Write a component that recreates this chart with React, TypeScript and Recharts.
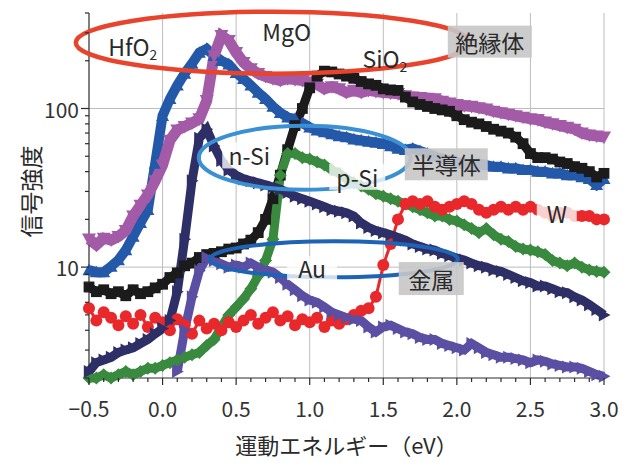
import React from "react";
import { LineChart, Line, XAxis, YAxis, ReferenceLine, ReferenceDot } from "recharts";

// kinetic energy grid (eV)
const ENERGY = [
  -0.5, -0.45, -0.4, -0.35, -0.3, -0.25, -0.2, -0.15, -0.1, -0.05,
  0, 0.05, 0.1, 0.15, 0.2, 0.25, 0.3, 0.35, 0.4, 0.45,
  0.5, 0.55, 0.6, 0.65, 0.7, 0.75, 0.8, 0.85, 0.9, 0.95,
  1, 1.05, 1.1, 1.15, 1.2, 1.25, 1.3, 1.35, 1.4, 1.45,
  1.5, 1.55, 1.6, 1.65, 1.7, 1.75, 1.8, 1.85, 1.9, 1.95,
  2, 2.05, 2.1, 2.15, 2.2, 2.25, 2.3, 2.35, 2.4, 2.45,
  2.5, 2.55, 2.6, 2.65, 2.7, 2.75, 2.8, 2.85, 2.9, 2.95,
  3,
];

const HFO2 = [
  9.6, 9.3, 9.3, 10.1, 11.1, 12.8, 15.6, 19, 23, 45,
  90, 115, 140, 166, 192, 225, 238, 215, 200, 190,
  168, 154, 140, 126, 115, 103, 94, 88, 86, 81,
  76, 73, 71, 69, 67, 66, 64, 63, 62, 61,
  60, 58, 56, 55, 56, 54, 52, 50, 48, 47,
  46, 45, 44, 45, 44, 43, 43, 42, 42, 41,
  41, 40, 40, 39, 39, 38, 38, 37, 36, 33,
  36,
];

const MGO = [
  15, 13.8, 15.2, 14.8, 15.6, 17, 21, 24.5, 28.5, 35,
  44, 63, 73, 77, 81, 86, 112, 215, 288, 268,
  225, 195, 178, 166, 159, 154, 150, 154, 152, 150,
  146, 142, 133, 137, 133, 126, 130, 126, 130, 128,
  126, 125, 124, 120, 118, 117, 116, 115, 111, 108,
  106, 104, 103, 101, 99, 96, 94, 92, 90, 88,
  86, 85, 82, 80, 78, 76, 74, 70, 68, 67,
  66,
];

const SIO2 = [
  7.5, 7.0, 7.2, 6.8, 7.0, 6.6, 7.2, 6.8, 7.0, 7.4,
  7.8, 8.6, 9.2, 10.2, 10.6, 11.5, 12.0, 12.2, 12.5, 13.0,
  13.2, 14.0, 14.8, 16.5, 20, 27, 38, 55, 78, 100,
  135, 160, 172, 170, 165, 160, 155, 148, 143, 140,
  133, 131, 130, 118, 110, 106, 103, 100, 98, 96,
  90, 85, 82, 80, 77, 74, 72, 70, 66, 60,
  52, 49, 49, 48, 46, 45, 43, 42, 40, 37,
  39,
];

const NSI = [
  2.2, 2.5, 2.6, 2.7, 2.9, 3.0, 3.1, 3.3, 3.5, 3.8,
  4.1, 4.6, 7, 15, 35, 65, 74, 58, 47, 41,
  38, 36, 35, 34, 33, 32, 31, 29.5, 28, 27,
  26, 25, 24, 23, 22.5, 22, 21, 19, 17.8, 17,
  16.5, 16, 15.4, 14.8, 14, 13.5, 13, 12.8, 12.2, 11.8,
  11.4, 11.1, 10.6, 10.2, 10, 9.6, 9.4, 9.0, 8.6, 8.2,
  8.0, 7.6, 7.6, 7.3, 7.0, 6.9, 6.5, 6.2, 5.8, 5.4,
  5.0,
];

const PSI = [
  2.0, 2.0, 2.1, 2.0, 2.1, 2.2, 2.1, 2.2, 2.3, 2.3,
  2.4, 2.5, 2.6, 2.7, 2.8, 2.9, 3.2, 3.5, 4.2, 5.0,
  5.6, 6.3, 7.3, 8.8, 11, 15, 38, 52, 52, 49,
  48, 46, 44, 41, 39, 36, 34, 32.5, 31, 29,
  28, 27, 26, 25, 24, 23, 22, 21, 21, 20,
  19.5, 18.5, 17.5, 16.5, 17.5, 16, 15, 14.5, 13.5, 13,
  12.8, 12.5, 12, 11, 10.6, 10.2, 10.6, 10, 9.6, 9.4,
  9.3,
];

const W = [
  5.5, 4.6, 5.2, 4.8, 4.3, 4.9, 4.4, 5.0, 4.2, 4.8,
  4.5, 4.0, 4.7, 4.3, 3.8, 4.6, 4.1, 4.4, 4.0, 4.5,
  4.2, 4.6, 5.0, 4.4, 4.8, 5.2, 4.6, 4.9, 4.3, 4.7,
  4.5, 4.8, 4.2, 4.6, 4.4, 4.7, 5.0, 5.3, 5.5, 6.5,
  10.3, 14, 20, 25, 26, 25, 26, 24, 23, 24,
  25, 26, 25, 23, 22, 23, 24, 23, 24, 23,
  24, 23, 22, 21, 22, 22, 21, 21, 21, 20,
  20,
];

const AU = [
  null, null, null, null, null, null, null, null, null, null,
  null, null, 2.2, 4.0, 6.5, 9.5, 11.5, 11, 10.5, 10,
  10.3, 10, 10.6, 10, 9.6, 9.3, 8.6, 7.8, 7.2, 6.6,
  6.2, 6.0, 5.6, 5.2, 5.0, 4.8, 4.7, 4.6, 4.2, 3.9,
  4.2, 4.3, 4.1, 3.9, 3.8, 3.6, 3.5, 3.5, 3.3, 3.2,
  3.1, 3.0, 3.3, 3.1, 2.9, 2.8, 2.7, 2.7, 2.65, 2.6,
  2.5, 2.6, 2.55, 2.45, 2.4, 2.35, 2.35, 2.3, 2.2, 2.1,
  2.05,
];

const X_TICKS = [
  -0.5, -0.4, -0.3, -0.2, -0.1, 0, 0.1, 0.2, 0.3, 0.4, 0.5, 0.6, 0.7, 0.8, 0.9,
  1, 1.1, 1.2, 1.3, 1.4, 1.5, 1.6, 1.7, 1.8, 1.9, 2, 2.1, 2.2, 2.3, 2.4, 2.5,
  2.6, 2.7, 2.8, 2.9, 3,
];
const X_GRID = [0, 0.5, 1, 1.5, 2, 2.5, 3];
const Y_TICKS = [2, 3, 4, 5, 6, 7, 8, 9, 10, 20, 30, 40, 50, 60, 70, 80, 90, 100, 200, 300, 400];
const Y_GRID = [10, 100];

const rows = ENERGY.map((e, i) => ({
  e,
  hfo2: HFO2[i],
  mgo: MGO[i],
  sio2: SIO2[i],
  psi: PSI[i],
  w: W[i],
  nsi: NSI[i],
  au: AU[i],
}));

const FONT = "'Noto Sans CJK JP', 'Noto Sans', sans-serif";
const INK = "#2a2a2a";

type Kind = "up" | "down" | "right" | "square" | "diamond" | "circle";

function marker(kind: Kind, color: string, s = 6.5) {
  return (p: any) => {
    const { cx, cy, index, value } = p;
    const key = `${kind}-${index}`;
    if (cx == null || cy == null || value == null) return <g key={key} />;
    if (kind === "circle") return <circle key={key} cx={cx} cy={cy} r={s} fill={color} />;
    if (kind === "square")
      return <rect key={key} x={cx - s * 0.9} y={cy - s * 0.9} width={s * 1.8} height={s * 1.8} fill={color} />;
    let d = "";
    if (kind === "up") d = `M${cx},${cy - s}L${cx + s},${cy + s * 0.8}L${cx - s},${cy + s * 0.8}Z`;
    if (kind === "down") d = `M${cx - s},${cy - s * 0.8}L${cx + s},${cy - s * 0.8}L${cx},${cy + s}Z`;
    if (kind === "right") d = `M${cx - s * 0.8},${cy - s}L${cx + s},${cy}L${cx - s * 0.8},${cy + s}Z`;
    if (kind === "diamond") d = `M${cx},${cy - s}L${cx + s},${cy}L${cx},${cy + s}L${cx - s},${cy}Z`;
    return <path key={key} d={d} fill={color} />;
  };
}

const XTick = (p: any) => {
  const { x, y, payload } = p;
  const v = payload.value as number;
  const major = Math.abs(v * 2 - Math.round(v * 2)) < 1e-6;
  const txt = v.toFixed(1).replace("-", "\u2212");
  return (
    <g>
      <line x1={x} x2={x} y1={y} y2={y + (major ? 7 : 4)} stroke={INK} strokeWidth={1.2} />
      {major && (
        <text x={x} y={y + 30} textAnchor="middle" dominantBaseline="central" fontSize={21} fill="#333" fontFamily={FONT}>
          {txt}
        </text>
      )}
    </g>
  );
};

const YTick = (p: any) => {
  const { x, y, payload } = p;
  const v = payload.value as number;
  const major = v === 10 || v === 100;
  return (
    <g>
      <line x1={x} x2={x - (major ? 8 : 4)} y1={y} y2={y} stroke={INK} strokeWidth={1.2} />
      {major && (
        <text x={x - 10} y={y} textAnchor="end" dominantBaseline="central" fontSize={21} fill="#333" fontFamily={FONT}>
          {v}
        </text>
      )}
    </g>
  );
};

const ellipse = (rx: number, ry: number, color: string, sw: number) => (p: any) =>
  <ellipse cx={p.cx} cy={p.cy} rx={rx} ry={ry} fill="none" stroke={color} strokeWidth={sw} />;

// text label, optional backing box, optional subscript
const tag = (
  text: string,
  opts: { sub?: string; box?: [number, number]; fill?: string; opacity?: number; size?: number } = {}
) => (p: any) => {
  const { cx, cy } = p;
  const size = opts.size ?? 23;
  return (
    <g>
      {opts.box && (
        <rect
          x={cx - opts.box[0] / 2}
          y={cy - opts.box[1] / 2}
          width={opts.box[0]}
          height={opts.box[1]}
          fill={opts.fill ?? "#fff"}
          fillOpacity={opts.opacity ?? 0.78}
        />
      )}
      <text x={cx} y={cy} textAnchor="middle" dominantBaseline="central" fontSize={size} fill={INK} fontFamily={FONT}>
        {text}
        {opts.sub && (
          <tspan fontSize={size * 0.6} dy={8}>
            {opts.sub}
          </tspan>
        )}
      </text>
    </g>
  );
};

const GRAY = "#c6c6c8";

export default function App() {
  return (
    <LineChart
      width={617}
      height={456}
      data={rows}
      margin={{ top: 5, right: 21, bottom: 46, left: 21 }}
      style={{ fontFamily: FONT }}
    >
      {X_GRID.map((v) => (
        <ReferenceLine key={`gx${v}`} x={v} stroke="#bdbdbd" strokeWidth={1} zIndex={-100} />
      ))}
      {Y_GRID.map((v) => (
        <ReferenceLine key={`gy${v}`} y={v} stroke="#bdbdbd" strokeWidth={1} zIndex={-100} />
      ))}
      <XAxis
        type="number"
        dataKey="e"
        domain={[-0.5, 3]}
        ticks={X_TICKS}
        interval={0}
        tickSize={0}
        tickMargin={0}
        tick={<XTick />}
        height={40}
        axisLine={{ stroke: INK, strokeWidth: 1.2 }}
        label={{
          content: (lp: any) => {
            const vb = lp.viewBox;
            return (
              <text x={vb.x + vb.width / 2} y={vb.y + 66} textAnchor="middle" dominantBaseline="central" fontSize={22} fill={INK} fontFamily={FONT}>
                運動エネルギー（eV）
              </text>
            );
          },
        }}
      />
      <YAxis
        type="number"
        scale="log"
        domain={[2, 400]}
        ticks={Y_TICKS}
        interval={0}
        tickSize={0}
        tickMargin={0}
        tick={<YTick />}
        width={60}
        axisLine={{ stroke: INK, strokeWidth: 1.2 }}
        label={{
          content: (lp: any) => {
            const vb = lp.viewBox;
            const cx = vb.x + 1;
            const cy = vb.y + vb.height / 2 - 4;
            return (
              <text x={cx} y={cy} transform={`rotate(-90 ${cx} ${cy})`} textAnchor="middle" dominantBaseline="central" fontSize={23} fill={INK} fontFamily={FONT}>
                信号強度
              </text>
            );
          },
        }}
      />

      <Line dataKey="hfo2" stroke="#2458a8" strokeWidth={10} dot={marker("up", "#2458a8")} isAnimationActive={false} />
      <Line dataKey="mgo" stroke="#a35ba8" strokeWidth={11} dot={marker("down", "#a35ba8", 7)} isAnimationActive={false} />
      <Line dataKey="sio2" stroke="#1b1b1b" strokeWidth={9} dot={marker("square", "#1b1b1b", 6)} isAnimationActive={false} />
      <Line dataKey="psi" stroke="#398a3f" strokeWidth={9} dot={marker("diamond", "#398a3f")} isAnimationActive={false} />
      <Line dataKey="w" stroke="#e8282b" strokeWidth={3} dot={marker("circle", "#e8282b", 6)} isAnimationActive={false} />
      <Line dataKey="nsi" stroke="#2e2f66" strokeWidth={9} dot={marker("right", "#2e2f66")} isAnimationActive={false} />
      <Line dataKey="au" stroke="#5a4fa2" strokeWidth={9} dot={marker("right", "#5a4fa2")} isAnimationActive={false} />

      <ReferenceDot x={0.749} y={260} r={1} ifOverflow="visible" zIndex={1500} shape={ellipse(197, 31, "#e8432d", 4.5)} />
      <ReferenceDot x={0.966} y={48.9} r={1} ifOverflow="visible" zIndex={1500} shape={ellipse(106, 32, "#3b90d3", 4)} />
      <ReferenceDot x={1.164} y={11.2} r={1} ifOverflow="visible" zIndex={1500} shape={ellipse(124, 18, "#1f64b4", 4)} />

      <ReferenceDot x={-0.203} y={249} r={1} ifOverflow="visible" zIndex={1600} shape={tag("HfO", { sub: "2" })} />
      <ReferenceDot x={0.843} y={309} r={1} ifOverflow="visible" zIndex={1600} shape={tag("MgO")} />
      <ReferenceDot x={1.511} y={209} r={1} ifOverflow="visible" zIndex={1600} shape={tag("SiO", { sub: "2" })} />
      <ReferenceDot x={2.224} y={264} r={1} ifOverflow="visible" zIndex={1600} shape={tag("絶縁体", { box: [84, 32], fill: GRAY, opacity: 0.9 })} />
      <ReferenceDot x={0.589} y={50.6} r={1} ifOverflow="visible" zIndex={1600} shape={tag("n-Si", { box: [54, 26] })} />
      <ReferenceDot x={1.323} y={37.1} r={1} ifOverflow="visible" zIndex={1600} shape={tag("p-Si", { box: [56, 26] })} />
      <ReferenceDot x={1.928} y={44.5} r={1} ifOverflow="visible" zIndex={1600} shape={tag("半導体", { box: [83, 32], fill: GRAY, opacity: 0.9 })} />
      <ReferenceDot x={2.679} y={22} r={1} ifOverflow="visible" zIndex={1600} shape={tag("W", { box: [40, 24] })} />
      <ReferenceDot x={1.016} y={9.86} r={1} ifOverflow="visible" zIndex={1600} shape={tag("Au", { box: [50, 24] })} />
      <ReferenceDot x={1.826} y={8.47} r={1} ifOverflow="visible" zIndex={1600} shape={tag("金属", { box: [65, 33], fill: GRAY, opacity: 0.9 })} />
    </LineChart>
  );
}
